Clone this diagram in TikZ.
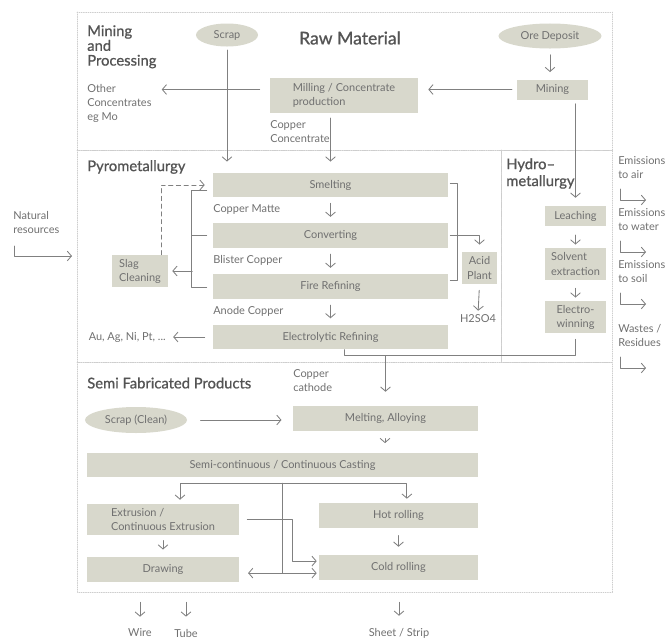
\documentclass[tikz,border=0pt]{standalone}
\usepackage{fontspec}
\setmainfont{Lato}
\newfontfamily\headfont{Lato}[FakeBold=0.9]
\usetikzlibrary{arrows.meta,shapes.geometric}
\definecolor{boxc}{RGB}{216,216,204}
\definecolor{txtc}{RGB}{112,112,112}
\definecolor{headc}{RGB}{84,84,84}
\definecolor{linec}{RGB}{128,128,128}
\definecolor{framec}{RGB}{205,205,205}
\tikzset{
	stage/.style={fill=boxc, text=txtc, inner sep=0pt, align=center},
	blob/.style={ellipse, fill=boxc, text=txtc, inner sep=0pt},
	note/.style={text=txtc, inner sep=0pt, align=left},
	head/.style={text=headc, inner sep=0pt, align=left, font=\headfont\fontsize{10.5}{10.5}\selectfont},
	pipe/.style={draw=linec, line width=0.6pt},
	link/.style={pipe, ->},
	frame/.style={draw=framec, densely dotted, line width=0.6pt}
}
\begin{document}
\begin{tikzpicture}[x=0.025cm, y=-0.025cm, >={Straight Barb[length=3pt,width=7pt]}, font=\fontsize{7.8}{10}\selectfont, line join=round, line cap=round]
	\useasboundingbox (0,0) rectangle (666,639);
	\draw[frame] (77,12) rectangle (612,150);
	\draw[frame] (77,150) rectangle (501,362);
	\draw[frame] (501,150) rectangle (612,362);
	\draw[frame] (77,362) rectangle (612,592);
	% raw material
	\node[head, anchor=north west] (mptitle) at (87,25) {Mining\\and\\Processing};
	\node[head, font=\headfont\fontsize{12.5}{14}\selectfont] (rawtitle) at (350,38) {Raw Material};
	\node[blob, minimum width=1.55cm, minimum height=0.575cm] (scrap) at (227,35) {Scrap};
	\node[blob, minimum width=2.575cm, minimum height=0.625cm] (ore) at (550,36) {Ore Deposit};
	\node[stage, minimum width=1.775cm, minimum height=0.5cm] (mining) at (552.5,89.5) {Mining};
	\node[stage, align=left, minimum width=3.7cm, minimum height=0.875cm] (milling) at (344,95.5) {Milling / Concentrate\\production};
	\node[note, anchor=north west] (other) at (87,84) {Other\\Concentrates\\eg Mo};
	\node[note, anchor=north west] (conc) at (270,120) {Copper\\Concentrate};
	\draw[link, shorten <=0.15cm, shorten >=0.18cm] (ore.south) -- (ore.south |- mining.north);
	\draw[link, shorten <=0.12cm, shorten >=0.25cm] (mining.west) -- (mining.west -| milling.east);
	\draw[link, shorten <=0.25cm, shorten >=0.25cm] (mining.west -| milling.west) -- (mining.west -| other.east);
	% pyrometallurgy
	\node[head, anchor=west] (pyrotitle) at (87,167) {Pyrometallurgy};
	\node[stage, minimum width=5.875cm, minimum height=0.6cm] (smelt) at (330.5,185) {Smelting};
	\node[stage, minimum width=5.875cm, minimum height=0.62cm] (conv) at (330.5,235.5) {Converting};
	\node[stage, minimum width=5.875cm, minimum height=0.62cm] (fire) at (330.5,286.5) {Fire Refining};
	\node[stage, minimum width=5.875cm, minimum height=0.62cm] (elec) at (330.5,337) {Electrolytic Refining};
	\node[note, anchor=west] (matte) at (213,209) {Copper Matte};
	\node[note, anchor=west] (blister) at (213,260) {Blister Copper};
	\node[note, anchor=west] (anode) at (213,311) {Anode Copper};
	\node[stage, align=left, minimum width=1.4cm, minimum height=0.8cm] (slag) at (140,271) {Slag\\Cleaning};
	\node[stage, minimum width=0.875cm, minimum height=0.8cm] (acid) at (479.5,268) {Acid\\Plant};
	\node[note] (h2so4) at (478,319) {H2SO4};
	\node[note, anchor=east] (au) at (166,337) {Au, Ag, Ni, Pt, ...};
	\draw[link, shorten <=0.08cm, shorten >=0.28cm] (scrap.south) -- (scrap.south |- smelt.north);
	\draw[link, shorten <=0.12cm, shorten >=0.28cm] (smelt.north |- milling.south) -- (smelt.north);
	\draw[link, shorten <=0.15cm, shorten >=0.15cm] (smelt.south) -- (conv.north);
	\draw[link, shorten <=0.15cm, shorten >=0.15cm] (conv.south) -- (fire.north);
	\draw[link, shorten <=0.15cm, shorten >=0.15cm] (fire.south) -- (elec.north);
	\draw[pipe] (smelt.west) ++(-6,5) -- ++(-15,0) -- ++(0,97) -- ++(15,0);
	\draw[pipe] (conv.west) ++(-6,0) -- ++(-15,0);
	\draw[link] (slag.east) ++(24,0) -- ([xshift=0.1cm]slag.east);
	\draw[link, dash pattern=on 3pt off 2.5pt, shorten >=0.2cm] (slag.north) ++(21,0) |- (smelt.west);
	\draw[pipe] (smelt.east) ++(2,-2) -- ++(7,0) -- ++(0,97) -- ++(-7,0);
	\draw[link, shorten >=0.18cm] (conv.east) ++(2,0) -| (acid.north);
	\draw[link, shorten <=0.15cm, shorten >=0.1cm] (acid.south) -- (h2so4.north);
	\draw[link, shorten <=0.2cm, shorten >=0.18cm] (elec.west) -- (au.east);
	% hydrometallurgy
	\node[head, anchor=north west, font=\headfont\fontsize{10.5}{12}\selectfont] (hydrotitle) at (506,158) {Hydro–\\metallurgy};
	\node[stage, minimum width=1.525cm, minimum height=0.5cm] (leach) at (575.5,216) {Leaching};
	\node[stage, align=left, minimum width=1.525cm, minimum height=0.8cm] (solvent) at (575.5,264) {Solvent\\extraction};
	\node[stage, align=left, minimum width=1.525cm, minimum height=0.8cm] (ew) at (575.5,317) {Electro-\\winning};
	\draw[link, shorten <=0.1cm, shorten >=0.2cm] (mining.south -| leach.north) -- (leach.north);
	\draw[link, shorten <=0.22cm, shorten >=0.08cm] (leach.south) -- (solvent.north);
	\draw[link, shorten <=0.2cm, shorten >=0.08cm] (solvent.south) -- (ew.north);
	% side notes
	\node[note, anchor=north west] (natural) at (13,211) {Natural\\resources};
	\node[note, anchor=north west] (eair) at (618,156) {Emissions\\to air};
	\node[note, anchor=north west] (ewater) at (618,208) {Emissions\\to water};
	\node[note, anchor=north west] (esoil) at (618,260) {Emissions\\to soil};
	\node[note, anchor=north west] (waste) at (618,324) {Wastes /\\Residues};
	\draw[link] (natural.north west) ++(1,35) -- ++(0,10) -- ++(58,0);
	\foreach \e in {eair,ewater,esoil,waste}
		\draw[link] (\e.north west) ++(2,33) -- ++(0,11) -- ++(26,0);
	% semi fabricated products
	\node[head, anchor=west] (semititle) at (87,383) {Semi Fabricated Products};
	\node[note, anchor=north west] (cathode) at (293,369) {Copper\\cathode};
	\node[blob, minimum width=2.55cm, minimum height=0.65cm] (scrapc) at (136,420) {Scrap (Clean)};
	\node[stage, minimum width=4.625cm, minimum height=0.625cm] (melt) at (385.5,418.5) {Melting, Alloying};
	\node[stage, minimum width=9.775cm, minimum height=0.6cm] (cast) at (282.5,465) {Semi-continuous / Continuous Casting};
	\node[stage, align=left, minimum width=3.8cm, minimum height=0.775cm] (extr) at (163,519.5) {Extrusion /\\Continuous Extrusion};
	\node[stage, minimum width=3.8cm, minimum height=0.625cm] (drawn) at (163,569.5) {Drawing};
	\node[stage, minimum width=3.975cm, minimum height=0.625cm] (hot) at (398.5,515.5) {Hot rolling};
	\node[stage, minimum width=3.975cm, minimum height=0.625cm] (cold) at (398.5,567.5) {Cold rolling};
	\node[note] (wire) at (140,633) {Wire};
	\node[note] (tube) at (186,633) {Tube};
	\node[note] (sheet) at (399,633) {Sheet / Strip};
	\draw[pipe] (elec.south) ++(14,0) -- ++(0,6) -| ([yshift=-0.15cm]ew.south);
	\draw[link, shorten >=0.35cm] (elec.south -| melt.north) ++(0,6) -- (melt.north);
	\draw[link, shorten <=0.33cm, shorten >=0.28cm] (scrapc.east) -- (scrapc.east -| melt.west);
	\draw[link, shorten <=0.18cm, shorten >=0.13cm] (melt.south -| cast.north) ++(102.5,0) -- ++(0,17);
	\draw[link, shorten >=0.1cm] (cast.south) ++(0,6) -| ([xshift=0.425cm]extr.north);
	\draw[link, shorten >=0.1cm] (cast.south) ++(0,6) -| ([xshift=0.21cm]hot.north);
	\draw[link, shorten >=0.22cm] (cast.south) ++(0,6) |- ([yshift=-0.09cm]drawn.east);
	\draw[link, shorten >=0.05cm] (cast.south) ++(0,6) |- ([yshift=-0.14cm]cold.west);
	\draw[link, shorten >=0.05cm] (extr.east) ++(8,0) -- ++(45,0) |- ([yshift=0.16cm]cold.west);
	\draw[link, shorten <=0.13cm, shorten >=0.18cm] (extr.south) -- (drawn.north);
	\draw[link, shorten <=0.18cm, shorten >=0.2cm] (hot.south) -- (cold.north);
	\draw[link, shorten <=0.5cm, shorten >=0.3cm] (wire.north |- drawn.south) -- (wire.north);
	\draw[link, shorten <=0.5cm, shorten >=0.3cm] (tube.north |- drawn.south) -- (tube.north);
	\draw[link, shorten <=0.55cm, shorten >=0.3cm] (sheet.north |- cold.south) -- (sheet.north);
\end{tikzpicture}
\end{document}
